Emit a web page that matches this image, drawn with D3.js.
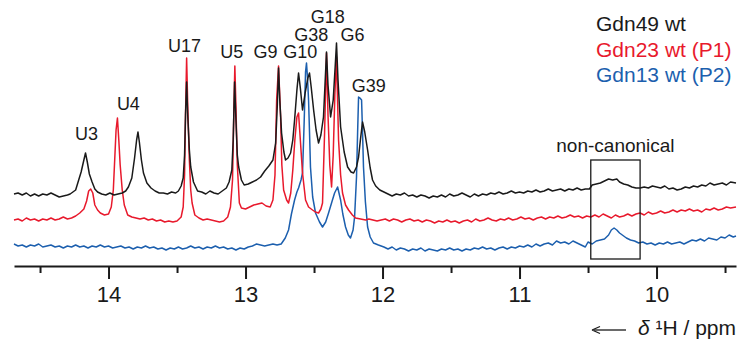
<html>
<head>
<meta charset="utf-8">
<script src="https://d3js.org/d3.v7.min.js"></script>
<style>
  body { margin: 0; background: #fff; }
  text { font-family: "Liberation Sans", Arial, sans-serif; }
  .trace { fill: none; stroke-width: 1.5; stroke-linejoin: round; }
</style>
</head>
<body>
<svg width="740" height="345"></svg>
<script>
// chemical shift (ppm) and intensity (a.u.)
const gdn49 = [[14.69,6],[14.66,7],[14.63,5],[14.60,7],[14.57,4],[14.54,6],[14.51,4],[14.48,6],[14.45,5],[14.42,7],[14.39,5],[14.36,3],[14.33,4],[14.30,5],[14.28,6],[14.26,8],
  [14.24,10],[14.22,19],[14.20,28],[14.18,40],[14.168,47],[14.155,38],[14.14,26],[14.12,18],[14.10,11],[14.08,8],[14.05,6],[14.02,5],[13.99,7],[13.96,5],[13.93,6],[13.90,7],
  [13.875,9],[13.855,13],[13.83,22],[13.81,42],[13.795,60],[13.785,68],[13.775,58],[13.76,40],[13.745,27],[13.72,17],[13.69,12],[13.66,9],[13.63,7],[13.60,7],[13.57,6],[13.54,8],[13.51,7],
  [13.49,9],[13.47,14],[13.455,22],[13.445,45],[13.438,85],[13.43,118],[13.422,85],[13.41,50],[13.40,33],[13.38,18],[13.35,9],[13.32,8],[13.29,6],[13.26,9],[13.23,7],[13.20,6],[13.17,9],
  [13.14,12],[13.12,18],[13.10,30],[13.09,60],[13.08,118],[13.07,80],[13.06,45],[13.05,33],[13.03,20],[13.01,15],[12.98,16],[12.95,18],[12.92,20],[12.89,23],[12.86,29],[12.83,34],[12.80,40],
  [12.78,57],[12.768,95],[12.759,132],[12.75,100],[12.737,67],[12.72,48],[12.708,40],[12.69,42],[12.671,47],[12.655,60],[12.642,80],[12.625,110],[12.613,127],[12.60,112],[12.584,90],
  [12.565,107],[12.545,122],[12.533,127],[12.52,112],[12.503,90],[12.485,70],[12.467,57],[12.45,65],[12.431,83],[12.42,115],[12.409,148],[12.398,115],[12.379,83],[12.36,100],[12.345,135],
  [12.336,157],[12.325,120],[12.306,73],[12.28,48],[12.255,33],[12.23,28],[12.211,27],[12.19,33],[12.175,43],[12.16,62],[12.146,78],[12.13,68],[12.109,50],[12.09,32],[12.073,20],[12.05,14],
  [12.02,10],[11.99,8],[11.96,6],[11.93,4],[11.90,6],[11.87,5],[11.84,7],[11.81,4],[11.78,5],[11.75,3],[11.72,5],[11.69,4],[11.66,2],[11.63,4],[11.60,3],[11.57,5],[11.54,3],[11.51,6],
  [11.48,4],[11.45,5],[11.42,7],[11.39,5],[11.36,3],[11.33,6],[11.30,4],[11.27,6],[11.24,5],[11.21,7],[11.18,6],[11.15,8],[11.12,6],[11.09,7],[11.06,9],[11.03,7],[11.00,8],[10.97,7],
  [10.94,9],[10.91,8],[10.88,10],[10.85,8],[10.82,9],[10.79,11],[10.76,9],[10.73,10],[10.70,11],[10.67,9],[10.64,11],[10.61,10],[10.58,12],[10.55,10],[10.52,11],[10.49,11],
  [10.47,15],[10.44,16],[10.41,17],[10.38,19],[10.35,21],[10.32,20],[10.29,21],[10.27,18],[10.24,16],[10.21,15],[10.18,13],[10.15,12],[10.12,12],[10.09,13],[10.06,12],[10.03,14],
  [10.00,13],[9.97,12],[9.94,14],[9.91,11],[9.88,12],[9.85,10],[9.82,11],[9.79,13],[9.76,12],[9.73,14],[9.70,13],[9.67,15],[9.64,14],[9.61,17],[9.58,15],[9.55,16],[9.52,17],[9.49,15],
  [9.46,18],[9.42,17]];

const gdn23 = [[14.69,5],[14.66,6],[14.63,4],[14.60,7],[14.57,5],[14.54,6],[14.51,4],[14.48,6],[14.45,5],[14.42,7],[14.39,5],[14.36,6],[14.33,8],[14.30,6],[14.27,7],[14.24,9],
  [14.21,12],[14.18,16],[14.16,24],[14.145,34],[14.13,36],[14.115,32],[14.10,20],[14.08,15],[14.06,12],[14.03,10],[14.00,11],[13.98,18],[13.965,35],[13.955,65],[13.945,95],[13.935,107],
  [13.925,85],[13.915,60],[13.90,35],[13.885,20],[13.86,10],[13.83,8],[13.80,7],[13.77,6],[13.74,7],[13.71,5],[13.68,6],[13.65,4],[13.62,5],[13.59,3],[13.56,4],[13.53,3],[13.50,4],
  [13.47,8],[13.455,18],[13.445,50],[13.438,110],[13.43,167],[13.422,120],[13.41,65],[13.40,35],[13.39,22],[13.37,10],[13.34,7],[13.31,5],[13.28,6],[13.25,5],[13.22,4],[13.19,3],[13.16,4],
  [13.13,8],[13.11,18],[13.095,45],[13.085,115],[13.078,159],[13.07,118],[13.06,60],[13.045,22],[13.03,17],[13.00,16],[12.97,18],[12.94,20],[12.91,21],[12.88,22],[12.85,19],[12.82,18],
  [12.80,25],[12.785,50],[12.773,125],[12.759,159],[12.744,108],[12.735,60],[12.722,35],[12.70,25],[12.686,22],[12.67,32],[12.655,55],[12.64,85],[12.625,108],[12.613,112],[12.60,85],
  [12.584,52],[12.562,25],[12.54,18],[12.511,15],[12.49,13],[12.467,12],[12.45,16],[12.438,22],[12.423,92],[12.409,172],[12.398,110],[12.385,60],[12.372,38],[12.36,70],[12.348,130],
  [12.336,168],[12.321,85],[12.306,50],[12.292,32],[12.27,20],[12.248,15],[12.22,10],[12.197,7],[12.16,6],[12.124,5],[12.10,6],[12.07,5],[12.04,4],[12.01,5],
  [11.98,6],[11.95,4],[11.92,6],[11.89,5],[11.86,3],[11.83,5],[11.80,6],[11.77,4],[11.74,5],[11.71,3],[11.68,5],[11.65,4],[11.62,2],[11.59,4],[11.56,3],[11.53,5],[11.50,3],[11.47,4],
  [11.44,2],[11.41,4],[11.38,5],[11.35,3],[11.32,6],[11.29,4],[11.26,5],[11.23,7],[11.20,5],[11.17,4],[11.14,6],[11.11,5],[11.08,7],[11.05,5],[11.02,6],[10.99,8],[10.96,6],[10.93,7],
  [10.90,5],[10.87,7],[10.84,8],[10.81,6],[10.78,8],[10.75,7],[10.72,9],[10.69,7],[10.66,8],[10.63,10],[10.60,8],[10.57,9],[10.54,7],[10.51,9],[10.48,8],[10.45,10],[10.42,8],[10.39,11],
  [10.36,9],[10.33,7],[10.30,10],[10.27,8],[10.24,9],[10.21,11],[10.18,9],[10.15,11],[10.12,12],[10.09,10],[10.06,13],[10.03,11],[10.00,12],[9.97,14],[9.94,12],[9.91,13],[9.88,15],
  [9.85,13],[9.82,15],[9.79,14],[9.76,16],[9.73,14],[9.70,15],[9.67,13],[9.64,16],[9.61,15],[9.58,17],[9.55,15],[9.52,16],[9.49,18],[9.46,17],[9.42,18]];

const gdn13 = [[14.69,8],[14.66,6],[14.63,7],[14.60,5],[14.57,7],[14.54,6],[14.51,8],[14.48,5],[14.45,6],[14.42,7],[14.39,5],[14.36,6],[14.33,4],[14.30,6],[14.27,5],[14.24,7],
  [14.21,5],[14.18,6],[14.15,4],[14.12,6],[14.09,5],[14.06,7],[14.03,5],[14.00,6],[13.97,4],[13.94,5],[13.91,6],[13.88,4],[13.85,5],[13.82,3],[13.79,5],[13.76,4],[13.73,6],[13.70,4],
  [13.67,5],[13.64,3],[13.61,4],[13.58,2],[13.55,4],[13.52,3],[13.49,5],[13.46,3],[13.43,4],[13.40,6],[13.37,4],[13.34,5],[13.31,3],[13.28,5],[13.25,4],[13.22,6],[13.19,4],[13.16,5],
  [13.13,3],[13.10,4],[13.07,2],[13.04,4],[13.01,3],[12.98,5],[12.95,6],[12.92,8],[12.89,7],[12.86,6],[12.83,7],[12.80,8],[12.77,7],[12.74,8],[12.71,14],[12.686,22],[12.665,38],
  [12.642,52],[12.625,60],[12.613,64],[12.595,72],[12.584,79],[12.572,130],[12.562,180],[12.555,189],[12.548,175],[12.54,152],[12.533,120],[12.526,85],[12.51,55],[12.489,39],[12.46,30],
  [12.438,25],[12.415,30],[12.394,39],[12.37,50],[12.35,59],[12.328,65],[12.306,52],[12.29,38],[12.27,25],[12.25,17],[12.234,14],[12.215,22],[12.204,35],[12.19,75],[12.182,119],
  [12.175,155],[12.165,154],[12.153,152],[12.146,120],[12.139,85],[12.125,50],[12.109,25],[12.09,15],[12.066,9],[12.03,7],[11.99,5],
  [11.96,3],[11.93,5],[11.90,2],[11.87,4],[11.84,3],[11.81,1],[11.78,3],[11.75,2],[11.72,4],[11.69,1],[11.66,3],[11.63,2],[11.60,1],[11.57,3],[11.54,2],[11.51,4],[11.48,2],[11.45,3],
  [11.42,1],[11.39,3],[11.36,2],[11.33,4],[11.30,3],[11.27,5],[11.24,3],[11.21,4],[11.18,2],[11.15,4],[11.12,5],[11.09,3],[11.06,5],[11.03,4],[11.00,6],[10.97,5],[10.94,7],[10.91,5],
  [10.88,8],[10.85,6],[10.82,8],[10.79,9],[10.76,7],[10.73,11],[10.70,9],[10.67,10],[10.64,8],[10.61,11],[10.58,9],[10.55,7],[10.52,5],[10.50,10],[10.47,8],[10.44,11],[10.41,12],
  [10.38,13],[10.35,17],[10.33,22],[10.31,24],[10.29,22],[10.27,19],[10.25,17],[10.22,14],[10.19,12],[10.16,11],[10.13,9],[10.10,10],[10.07,8],[10.04,9],[10.01,7],[9.98,9],[9.95,8],
  [9.92,10],[9.89,8],[9.86,9],[9.83,10],[9.80,8],[9.77,10],[9.74,12],[9.71,11],[9.68,13],[9.65,11],[9.62,14],[9.59,13],[9.56,12],[9.53,15],[9.50,14],[9.47,17],[9.44,15],[9.42,16]];

const seriesNames = ["Gdn49 wt", "Gdn23 wt (P1)", "Gdn13 wt (P2)"];
const seriesColors = ["#1a1a1a", "#e8192c", "#1c5fae"];

const peakLabels = ["U3", "U4", "U17", "U5", "G9", "G10", "G38", "G18", "G6", "G39"];
const peakShifts = [14.16, 13.855, 13.445, 13.10, 12.855, 12.60, 12.52, 12.40, 12.22, 12.10];

const majorTicks = [14, 13, 12, 11, 10];
const minorTicks = [14.5, 13.5, 12.5, 11.5, 10.5, 9.5];
const boxRange = [10.48, 10.12];

// layout
const svg = d3.select("svg");
const x = d3.scaleLinear().domain([14.69, 9.42]).range([14, 736]);
const y = d3.scaleLinear().domain([0, 200]).range([0, -200]);
const offsets = [200, 225, 252];
const axisY = 266;
const labelY = [140, 110, 52, 58, 58, 58, 41, 23, 41, 92];

svg.append("rect").attr("width", 740).attr("height", 345).attr("fill", "#fff");

const line = d3.line().x(d => x(d[0])).y(d => y(d[1]));

// draw blue first so black sits on top
[gdn13, gdn23, gdn49].forEach((s, k) => {
  const i = 2 - k;
  svg.append("path")
    .attr("class", "trace")
    .attr("transform", "translate(0," + offsets[i] + ")")
    .attr("stroke", seriesColors[i])
    .attr("d", line(s));
});

// axis
const ax = svg.append("g").attr("transform", "translate(0," + axisY + ")");
ax.call(d3.axisBottom(x).tickValues(majorTicks).tickSize(13).tickSizeOuter(0).tickPadding(7).tickFormat(d3.format("d")));
ax.append("g").call(d3.axisBottom(x).tickValues(minorTicks).tickSize(7).tickSizeOuter(0).tickFormat(""))
  .select(".domain").remove();
ax.selectAll(".domain, line").attr("stroke", "#1a1a1a").attr("stroke-width", 2);
ax.selectAll("text").attr("font-size", 22).attr("font-family", "Liberation Sans, Arial, sans-serif").attr("fill", "#1a1a1a");

// axis title with arrow
svg.append("line").attr("x1", 594).attr("x2", 626).attr("y1", 330).attr("y2", 330)
  .attr("stroke", "#1a1a1a").attr("stroke-width", 1.3);
svg.append("path").attr("d", "M592,330 L600,326.5 M592,330 L600,333.5")
  .attr("stroke", "#1a1a1a").attr("stroke-width", 1.3).attr("fill", "none");
const title = svg.append("text").attr("x", 736).attr("y", 335).attr("text-anchor", "end")
  .attr("font-size", 21).attr("fill", "#1a1a1a");
title.append("tspan").attr("font-style", "italic").text("δ");
title.append("tspan").text(" ¹H / ppm");

// peak assignments
svg.selectAll(".peak").data(peakLabels).enter().append("text")
  .attr("class", "peak")
  .attr("x", (d, i) => x(peakShifts[i]))
  .attr("y", (d, i) => labelY[i])
  .attr("text-anchor", "middle")
  .attr("font-size", 18)
  .attr("fill", "#1a1a1a")
  .text(d => d);

// non-canonical box
svg.append("rect")
  .attr("x", x(boxRange[0])).attr("y", 160)
  .attr("width", x(boxRange[1]) - x(boxRange[0])).attr("height", 99)
  .attr("fill", "none").attr("stroke", "#1a1a1a").attr("stroke-width", 1.3);
svg.append("text").attr("x", x((boxRange[0] + boxRange[1]) / 2)).attr("y", 152)
  .attr("text-anchor", "middle").attr("font-size", 19).attr("fill", "#1a1a1a")
  .text("non-canonical");

// legend
svg.selectAll(".legend").data(seriesNames).enter().append("text")
  .attr("class", "legend")
  .attr("x", 596)
  .attr("y", (d, i) => 31 + i * 25.5)
  .attr("font-size", 21)
  .attr("fill", (d, i) => seriesColors[i])
  .text(d => d);
</script>
</body>
</html>
